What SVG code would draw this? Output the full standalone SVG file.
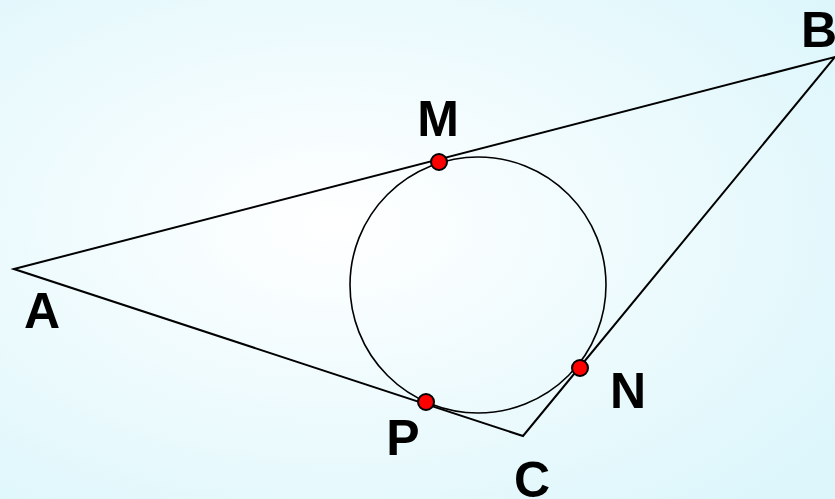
<svg xmlns="http://www.w3.org/2000/svg" width="835" height="499" viewBox="0 0 835 499">
<defs>
<radialGradient id="bg" cx="0.4" cy="0.45" r="0.75">
<stop offset="0" stop-color="#ffffff"/>
<stop offset="1" stop-color="#dcf6fb"/>
</radialGradient>
<style>
.lbl{font-family:"Liberation Sans",Arial,sans-serif;font-weight:bold;font-size:50px;fill:#000}
.pt{fill:#ff0000;stroke:#000;stroke-width:2}
</style>
</defs>
<rect width="835" height="499" fill="url(#bg)"/>
<g id="connectors" fill="none" stroke="#000">
<polygon points="14,269 835,57 523,436" stroke-width="2"/>
<circle cx="478" cy="285" r="128" stroke-width="1.6"/>
</g>
<g id="M"><circle class="pt" cx="439" cy="162" r="8"/><text class="lbl" x="438" y="136" text-anchor="middle">M</text></g>
<g id="N"><circle class="pt" cx="580" cy="368" r="8"/><text class="lbl" x="628" y="408" text-anchor="middle">N</text></g>
<g id="P"><circle class="pt" cx="426" cy="402" r="8"/><text class="lbl" x="403" y="455" text-anchor="middle">P</text></g>
<g id="A"><text class="lbl" x="42" y="328" text-anchor="middle">A</text></g>
<g id="B"><text class="lbl" x="819" y="47" text-anchor="middle">B</text></g>
<g id="C"><text class="lbl" x="532" y="497" text-anchor="middle">C</text></g>
</svg>
